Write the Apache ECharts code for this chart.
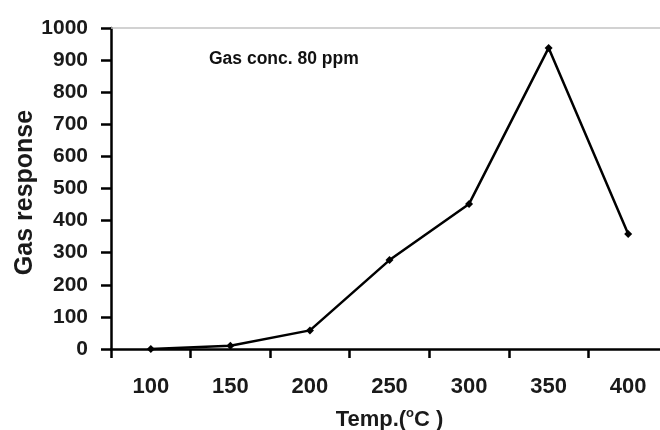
<!DOCTYPE html>
<html>
<head>
<meta charset="utf-8">
<script src="https://cdn.jsdelivr.net/npm/echarts@6/dist/echarts.min.js"></script>
<style>html,body{margin:0;padding:0;background:#fff}#c{width:660px;height:430px}</style>
</head>
<body>
<div id="c"></div>
<script>
const categories = ['100', '150', '200', '250', '300', '350', '400'];
const gasResponse = [0, 10, 58, 277, 452, 938, 358];
const yTicks = { min: 0, max: 1000, interval: 100 };
const annotation = 'Gas conc. 80 ppm';

const chart = echarts.init(document.getElementById('c'), null, { renderer: 'canvas' });
const font = 'Liberation Sans, Arial, sans-serif';
chart.setOption({
  animation: false,
  backgroundColor: '#ffffff',
  title: {
    text: annotation,
    left: 204, top: 45,
    textStyle: { fontFamily: font, fontSize: 17.5, fontWeight: 'bold', color: '#111' }
  },
  grid: { left: 111, top: 28, width: 557, height: 321, containLabel: false, outerBoundsMode: 'none' },
  xAxis: [{
    type: 'category',
    data: categories,
    boundaryGap: true,
    axisLine: { lineStyle: { color: '#000', width: 2.5 } },
    axisTick: { show: true, interval: 0, alignWithLabel: false, length: 9, lineStyle: { color: '#000', width: 2.5 } },
    axisLabel: { margin: 27, fontFamily: font, fontSize: 22, fontWeight: 'bold', color: '#1a1a1a' },
    name: 'Temp.({sup|o}C )',
    nameLocation: 'middle',
    nameGap: 58,
    nameMoveOverlap: false,
    nameTextStyle: {
      fontFamily: font, fontSize: 22, fontWeight: 'bold', color: '#1a1a1a',
      rich: { sup: { fontFamily: font, fontSize: 13, fontWeight: 'bold', color: '#1a1a1a', verticalAlign: 'top', padding: [0, 0, 13, 0] } }
    },
    splitLine: { show: false }
  }, {
    type: 'category',
    data: categories,
    position: 'top',
    axisLine: { lineStyle: { color: '#c4c4c4', width: 1.5 } },
    axisTick: { show: false },
    axisLabel: { show: false },
    splitLine: { show: false }
  }],
  yAxis: {
    type: 'value',
    min: yTicks.min, max: yTicks.max, interval: yTicks.interval,
    axisLine: { show: true, lineStyle: { color: '#000', width: 2.5 } },
    axisTick: { show: true, length: 10, lineStyle: { color: '#000', width: 2.5 } },
    axisLabel: { margin: 23, fontFamily: font, fontSize: 21, fontWeight: 'bold', color: '#1a1a1a', formatter: v => String(v) },
    splitLine: { show: false },
    name: 'Gas response',
    nameLocation: 'middle',
    nameGap: 73,
    nameMoveOverlap: false,
    nameTextStyle: { fontFamily: font, fontSize: 25, fontWeight: 'bold', color: '#1a1a1a', padding: [0, 8, 0, 0] }
  },
  series: [{
    type: 'line',
    data: gasResponse,
    xAxisIndex: 0,
    symbol: 'diamond',
    symbolSize: 8,
    lineStyle: { color: '#000', width: 2.5 },
    itemStyle: { color: '#000' },
    clip: false
  }]
});
</script>
</body>
</html>
